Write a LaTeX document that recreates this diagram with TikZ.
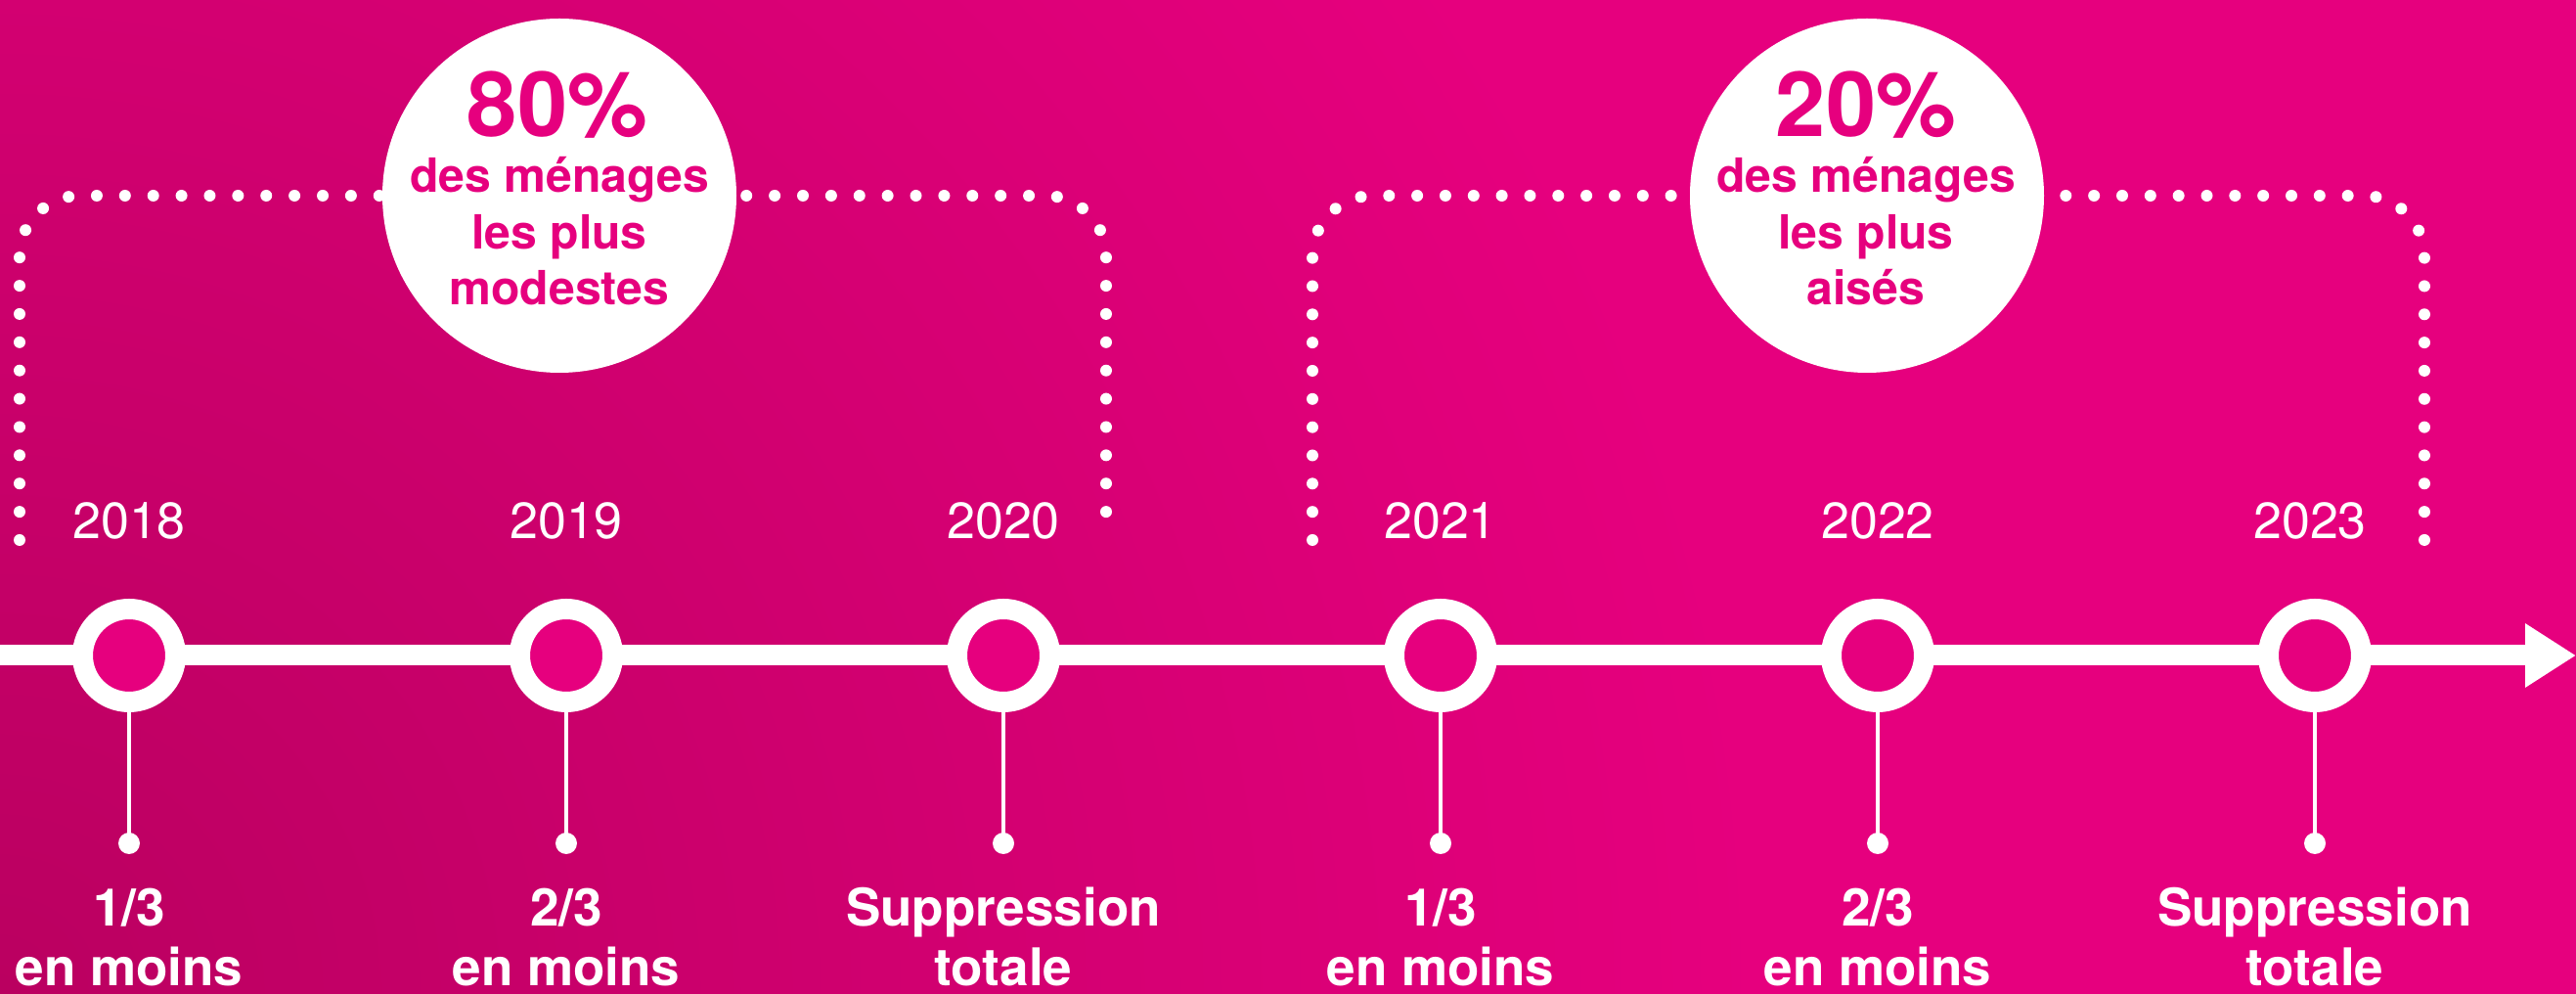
\documentclass[tikz,border=0pt]{standalone}
\usepackage{fontspec}
\setmainfont{TeX Gyre Heros}
\usetikzlibrary{arrows.meta}

\definecolor{pinkbg}{RGB}{230,0,126}
\definecolor{pinkdark}{RGB}{186,0,96}

\begin{document}
\begin{tikzpicture}[
    ring/.style={circle, draw=white, line width=0.21cm, fill=pinkbg, minimum size=0.95cm, inner sep=0pt},
    stemdot/.style={circle, fill=white, minimum size=0.22cm, inner sep=0pt},
    stem/.style={white, line width=1pt},
    yearlabel/.style={white, anchor=base, inner sep=0pt, font=\fontsize{14.8}{17}\selectfont},
    cutlabel/.style={white, anchor=base, align=center, inner sep=0pt, font=\bfseries\fontsize{15.1}{17.6}\selectfont},
    bubble/.style={circle, fill=white, minimum size=3.62cm, inner sep=0pt},
    bignum/.style={pinkbg, anchor=base, inner sep=0pt, font=\bfseries\fontsize{26.2}{30}\selectfont},
    bubtext/.style={pinkbg, anchor=base, align=center, inner sep=0pt, font=\bfseries\fontsize{13.7}{16.4}\selectfont},
    dotline/.style={white, line width=0.12cm, line cap=round, rounded corners=0.62cm}
  ]
  \useasboundingbox (0,0) rectangle (26.34,10.16);

  % Background, darker towards the lower left corner
  \fill[pinkbg] (0,0) rectangle (26.34,10.16);
  \begin{scope}
    \clip (0,0) rectangle (26.34,10.16);
    \shade[inner color=pinkdark, outer color=pinkbg] (0,0) circle (18);
  \end{scope}

  % Timeline
  \coordinate (tstart) at (0,3.46);
  \coordinate (tend) at (26.34,3.46);
  \draw[white, line width=0.21cm, -{Triangle[length=0.52cm, width=0.62cm]}] (tstart) -- (tend);

  % Years on the line
  \node[ring] (r2018) at (1.32,3.46) {};
  \node[ring] (r2019) at (5.79,3.46) {};
  \node[ring] (r2020) at (10.26,3.46) {};
  \node[ring] (r2021) at (14.73,3.46) {};
  \node[ring] (r2022) at (19.20,3.46) {};
  \node[ring] (r2023) at (23.67,3.46) {};

  \node[yearlabel] (y2018) at (1.32,4.65) {2018};
  \node[yearlabel] (y2019) at (5.79,4.65) {2019};
  \node[yearlabel] (y2020) at (10.26,4.65) {2020};
  \node[yearlabel] (y2021) at (14.73,4.65) {2021};
  \node[yearlabel] (y2022) at (19.20,4.65) {2022};
  \node[yearlabel] (y2023) at (23.62,4.65) {2023};

  % Stems down to the reductions
  \node[stemdot] (d2018) at (1.32,1.54) {};
  \node[stemdot] (d2019) at (5.79,1.54) {};
  \node[stemdot] (d2020) at (10.26,1.54) {};
  \node[stemdot] (d2021) at (14.73,1.54) {};
  \node[stemdot] (d2022) at (19.20,1.54) {};
  \node[stemdot] (d2023) at (23.67,1.54) {};
  \draw[stem] (r2018.south) -- (d2018.center);
  \draw[stem] (r2019.south) -- (d2019.center);
  \draw[stem] (r2020.south) -- (d2020.center);
  \draw[stem] (r2021.south) -- (d2021.center);
  \draw[stem] (r2022.south) -- (d2022.center);
  \draw[stem] (r2023.south) -- (d2023.center);

  % base of a two-line node is its last line
  \node[cutlabel] (c2018) at (1.32,0.08) {1/3\\en moins};
  \node[cutlabel] (c2019) at (5.79,0.08) {2/3\\en moins};
  \node[cutlabel] (c2020) at (10.26,0.08) {Suppression\\totale};
  \node[cutlabel] (c2021) at (14.73,0.08) {1/3\\en moins};
  \node[cutlabel] (c2022) at (19.20,0.08) {2/3\\en moins};
  \node[cutlabel] (c2023) at (23.67,0.08) {Suppression\\totale};

  % Dotted brackets over each period
  \coordinate (k1a) at (0.20,4.64);
  \coordinate (k1b) at (11.31,4.64);
  \coordinate (k2a) at (13.42,4.64);
  \coordinate (k2b) at (24.79,4.64);
  \coordinate (k1top) at (5.72,8.16);
  \coordinate (k2top) at (19.09,8.16);
  \draw[dotline, dash pattern=on 0pt off 0.28882cm] (k1a) |- (k1top) -| (k1b);
  \draw[dotline, dash pattern=on 0pt off 0.28835cm] (k2a) |- (k2top) -| (k2b);

  % Households concerned
  \node[bubble] (b80) at (k1top) {};
  \node[bubble] (b20) at (k2top) {};
  \node[bignum] (n80) at (5.70,8.76) {80\%};
  \node[bignum] (n20) at (19.08,8.76) {20\%};
  \node[bubtext] (t80) at (5.72,7.04) {des ménages\\les plus\\modestes};
  \node[bubtext] (t20) at (19.08,7.04) {des ménages\\les plus\\aisés};
\end{tikzpicture}
\end{document}
